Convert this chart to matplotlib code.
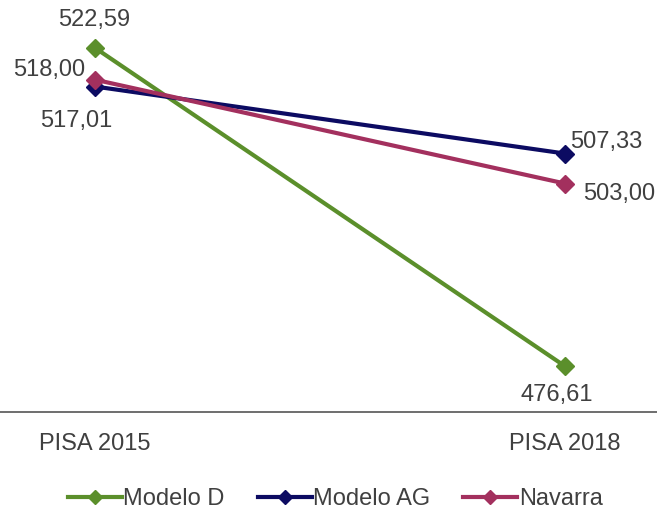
import matplotlib
matplotlib.use('Agg')
import matplotlib.pyplot as plt
from matplotlib.lines import Line2D

# Datos
categorias = ['PISA 2015', 'PISA 2018']
modelo_d = [522.59, 476.61]
modelo_ag = [517.01, 507.33]
navarra = [518.00, 503.00]

series = [('Modelo D', modelo_d, '#5b8f2b'),
          ('Modelo AG', modelo_ag, '#0c0b62'),
          ('Navarra', navarra, '#a3305e')]

# offsets (pixels) for each value label: [2015, 2018]
offsets = {'Modelo D': [(-1, 28), (-8, -29)],
           'Modelo AG': [(-19, -34), (41, 12)],
           'Navarra': [(-46, 10), (54, -10)]}

plt.rcParams['font.family'] = ['Liberation Sans', 'DejaVu Sans']
txt_color = '#404040'
fs = 17

fig = plt.figure(figsize=(6.57, 5.17), dpi=100)
ax = fig.add_axes([0, (517 - 412) / 517, 1, (412 + 3.4) / 517])

x = list(range(len(categorias)))
for name, vals, col in series:
    ax.plot(x, vals, color=col, lw=3, marker='D', markersize=9,
            clip_on=False, label=name)
    for i, v in enumerate(vals):
        dx, dy = offsets[name][i]
        ax.annotate(('%.2f' % v).replace('.', ','), (x[i], v),
                    xytext=(dx, dy), textcoords='offset pixels',
                    ha='center', va='center', fontsize=fs, color=txt_color)

ax.set_xlim(-95 / 470, 1 + 92 / 470)
ax.set_ylim(470, 530)
for s in ['top', 'left', 'right']:
    ax.spines[s].set_visible(False)
ax.spines['bottom'].set_color('#555555')
ax.spines['bottom'].set_linewidth(1.2)
ax.set_yticks([])
ax.set_xticks(x)
ax.set_xticklabels(categorias, fontsize=fs, color=txt_color)
ax.tick_params(axis='x', length=0, pad=15)

handles = [Line2D([], [], color=c, lw=3, marker='D', markersize=7) for _, _, c in series]
fig.legend(handles, [s[0] for s in series], loc='center',
           bbox_to_anchor=(0.51, 1 - 499 / 517), ncol=3, frameon=False,
           fontsize=fs, handlelength=2.3, handletextpad=0.05,
           columnspacing=1.4, labelcolor=txt_color)

fig.savefig('out.png', dpi=100)
